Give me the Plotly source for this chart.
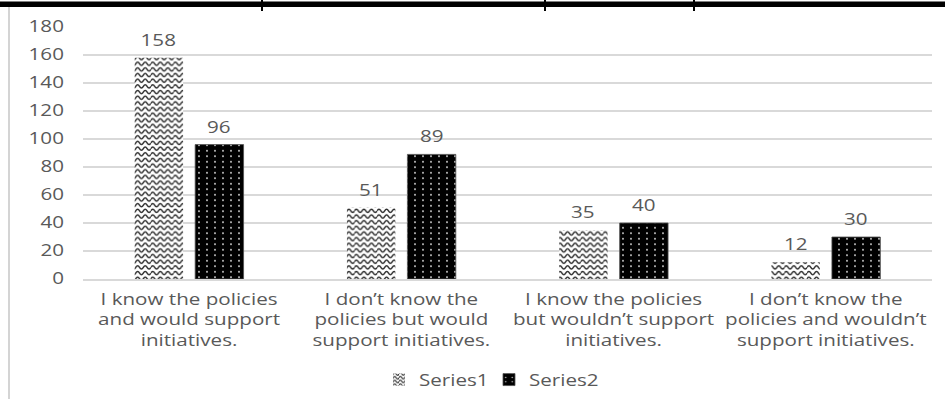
import plotly.graph_objects as go

# ---- data ----
categories = [
    "I know the policies<br>and would support<br>initiatives.",
    "I don’t know the<br>policies but would<br>support initiatives.",
    "I know the policies<br>but wouldn’t support<br>initiatives.",
    "I don’t know the<br>policies and wouldn’t<br>support initiatives.",
]
series1 = [158, 51, 35, 12]
series2 = [96, 89, 40, 30]
series_names = ["Series1", "Series2"]
y_ticks = [0, 20, 40, 60, 80, 100, 120, 140, 160, 180]

# ---- layout constants ----
W, H = 945, 399
ML, MR, MT, MB = 83, 13, 27, 120
PLOT_W = W - ML - MR
PLOT_H = H - MT - MB
BARGAP = 0.43
BARGROUPGAP = 0.2
TEXT = "#595959"
GRID = "#d9d9d9"
FONT = "Open Sans"
FS = 15.5
TEXT_STRETCH = 1.33   # horizontal widening applied to every text run


def px_x(p):
    return (p - ML) / PLOT_W


def px_y(p):
    return (H - MB - p) / PLOT_H


fig = go.Figure()
fig.add_bar(
    name=series_names[0], x=categories, y=series1,
    marker=dict(
        color="white",
        line=dict(width=0),
        pattern=dict(shape="x", size=16, solidity=0.3,
                     fgcolor="#2e2e2e", bgcolor="white", fillmode="replace"),
    ),
)
fig.add_bar(
    name=series_names[1], x=categories, y=series2,
    marker=dict(
        color="black",
        line=dict(width=0.8, color="#505050"),
        pattern=dict(shape=".", size=6, solidity=0.08,
                     fgcolor="#eeeeee", bgcolor="black", fillmode="replace"),
    ),
)

# value labels above each bar
slot_px = (1 - BARGAP) * (PLOT_W / len(categories)) / 2
for shift, vals in ((-slot_px / 2, series1), (slot_px / 2, series2)):
    for c, v in zip(categories, vals):
        fig.add_annotation(
            x=c, y=v, text=str(v), showarrow=False,
            xref="x", yref="y", yanchor="bottom",
            xshift=shift, yshift=5,
            font=dict(family=FONT, size=FS, color=TEXT),
        )

# page frame: heavy rule across the top with column ticks, light rule on the left
shapes = [
    dict(type="rect", xref="paper", yref="paper",
         x0=px_x(0), x1=px_x(W), y0=px_y(7), y1=px_y(1.5),
         fillcolor="black", line=dict(width=0), layer="above"),
    dict(type="line", xref="paper", yref="paper",
         x0=px_x(9), x1=px_x(9), y0=px_y(7), y1=px_y(H),
         line=dict(color="#d4d4d4", width=2)),
]
for tx in (262, 545, 694):
    shapes.append(dict(type="line", xref="paper", yref="paper",
                       x0=px_x(tx), x1=px_x(tx), y0=px_y(0), y1=px_y(11),
                       line=dict(color="black", width=2)))

fig.update_layout(
    width=W, height=H, autosize=False,
    margin=dict(l=ML, r=MR, t=MT, b=MB, autoexpand=False),
    paper_bgcolor="white", plot_bgcolor="white",
    barmode="group", bargap=BARGAP, bargroupgap=BARGROUPGAP,
    font=dict(family=FONT, size=FS, color=TEXT),
    shapes=shapes,
    showlegend=True,
    legend=dict(
        orientation="h", xref="container", yref="container",
        x=379 / W, xanchor="left",
        y=1 - 380 / H, yanchor="middle",
        entrywidth=65, entrywidthmode="pixels",
        font=dict(family=FONT, size=FS, color=TEXT),
        bgcolor="rgba(0,0,0,0)",
    ),
    xaxis=dict(
        showgrid=False, showline=True, linecolor=GRID, linewidth=1.5,
        ticks="", tickfont=dict(family=FONT, size=FS, color=TEXT),
        ticklabelstandoff=6, fixedrange=True, automargin=False,
    ),
    yaxis=dict(
        range=[0, 180], tickvals=y_ticks, showgrid=True, gridcolor=GRID,
        gridwidth=1.5, zeroline=False, showline=False, ticks="",
        tickfont=dict(family=FONT, size=FS, color=TEXT),
        ticklabelstandoff=18, fixedrange=True, automargin=False,
    ),
)

# wavy texture for the first series, a rectangular dot grid for the second,
# and wide-set lettering for all text runs
post = """
(function(){
  var STRETCH = %s;
  function textures(){
    document.querySelectorAll('pattern').forEach(function(p){
      var path = p.querySelector('path');
      var circ = p.querySelector('circle');
      var w = parseFloat(p.getAttribute('width')) || 16;
      var h = parseFloat(p.getAttribute('height')) || 16;
      if(path && !path.getAttribute('data-wave')){
        var rows = Math.max(1, Math.round(h / 5.33));
        var cols = Math.max(1, Math.round(w / 8));
        var dy = h / rows, per = w / cols, q = per / 4, a = 3.2;
        var d = '';
        for(var r = 0; r < rows; r++){
          var y = dy * (r + 0.5);
          d += 'M0,' + y + 'Q' + q + ',' + (y - a) + ' ' + (2*q) + ',' + y;
          for(var k = 3; k <= cols * 4; k++){
            if(k %% 2 === 0) d += 'T' + (k*q) + ',' + y;
          }
        }
        path.setAttribute('d', d);
        path.setAttribute('fill', 'none');
        path.setAttribute('stroke-width', '1.5');
        path.setAttribute('data-wave', '1');
      }
      if(circ && !circ.getAttribute('data-grid')){
        var tw = 8, th = 5.5;
        p.setAttribute('width', tw);
        p.setAttribute('height', th);
        p.querySelectorAll('rect').forEach(function(rc){
          rc.setAttribute('width', tw);
          rc.setAttribute('height', th);
        });
        circ.setAttribute('cx', tw / 2);
        circ.setAttribute('cy', th / 2);
        circ.setAttribute('r', '0.9');
        circ.setAttribute('data-grid', '1');
      }
    });
  }
  function widen(){
    var root = document.getElementById('{plot_id}');
    if(!root) return;
    root.querySelectorAll('svg text').forEach(function(t){
      var cur = t.getAttribute('transform') || '';
      if(t.__wide && cur === t.__wide) return;
      var bb;
      try { bb = t.getBBox(); } catch(e) { return; }
      if(!bb || !bb.width) return;
      var anchor = t.getAttribute('text-anchor') || 'start';
      var ox = anchor === 'middle' ? bb.x + bb.width / 2 :
               (anchor === 'end' ? bb.x + bb.width : bb.x);
      var tr = cur + ' translate(' + ox + ',0) scale(' + STRETCH + ',1) translate(' + (-ox) + ',0)';
      t.setAttribute('transform', tr);
      t.__wide = t.getAttribute('transform');
    });
  }
  function restyle(){ textures(); widen(); }
  var gd = document.getElementById('{plot_id}');
  if(gd && gd.on){ gd.on('plotly_afterplot', restyle); }
  restyle();
  setTimeout(restyle, 50);
  setTimeout(restyle, 300);
})();
""" % TEXT_STRETCH

fig.write_html("out.html", post_script=post, config=dict(displayModeBar=False))
